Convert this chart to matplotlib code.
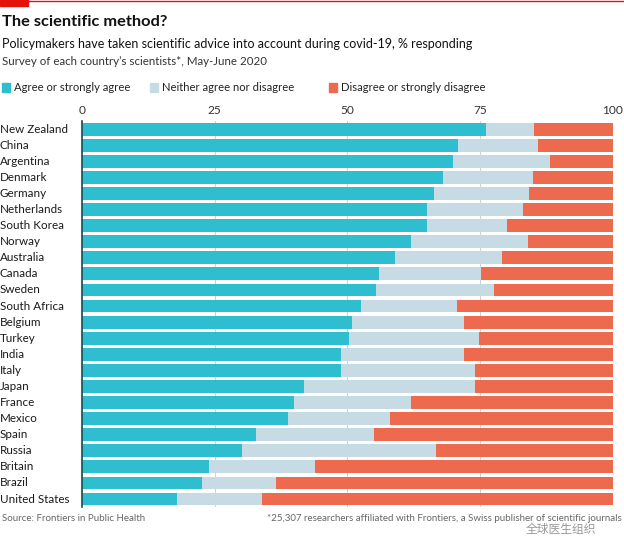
import matplotlib.pyplot as plt
from matplotlib.patches import Rectangle

countries = ['New Zealand', 'China', 'Argentina', 'Denmark', 'Germany', 'Netherlands',
             'South Korea', 'Norway', 'Australia', 'Canada', 'Sweden', 'South Africa',
             'Belgium', 'Turkey', 'India', 'Italy', 'Japan', 'France', 'Mexico', 'Spain',
             'Russia', 'Britain', 'Brazil', 'United States']
agree = [76.2, 70.9, 70.0, 68.0, 66.3, 65.0, 65.0, 62.0, 59.0, 56.0, 55.5, 52.5,
         50.9, 50.4, 48.9, 48.9, 41.9, 40.0, 38.9, 32.9, 30.2, 23.9, 22.7, 17.9]
neither = [8.9, 15.1, 18.1, 17.0, 17.9, 18.1, 15.1, 22.0, 20.1, 19.1, 22.2, 18.2,
           21.1, 24.5, 23.1, 25.1, 32.1, 22.0, 19.2, 22.1, 36.5, 20.1, 13.9, 16.0]
disagree = [100 - a - n for a, n in zip(agree, neither)]
ticks = [0, 25, 50, 75, 100]

c_agree = '#2fbdd0'
c_neither = '#c7dbe4'
c_dis = '#ee6a4f'

plt.rcParams['font.family'] = ['Lato', 'Noto Sans CJK SC', 'DejaVu Sans']

fig = plt.figure(figsize=(6.24, 5.36), dpi=100)
ax = fig.add_axes([0.131, 0.054, 0.851, 0.72])

y = list(range(len(countries)))
left2 = [a + n for a, n in zip(agree, neither)]
ax.barh(y, agree, height=0.8, color=c_agree, zorder=2)
ax.barh(y, neither, left=agree, height=0.8, color=c_neither, zorder=2)
ax.barh(y, disagree, left=left2, height=0.8, color=c_dis, zorder=2)

ax.set_xlim(0, 100)
ax.set_ylim(len(countries) - 0.5, -0.5)
ax.set_xticks(ticks)
ax.xaxis.tick_top()
ax.tick_params(axis='x', length=0, pad=4, labelsize=8.6, labelcolor='#333333')
ax.grid(axis='x', color='#d0d0d0', lw=0.7, zorder=0)
ax.set_yticks([])
for s in ['top', 'right', 'bottom']:
    ax.spines[s].set_visible(False)
ax.spines['left'].set_color('#1a4a55')
ax.spines['left'].set_linewidth(1.2)
ax.spines['left'].set_zorder(3)

for i, c in enumerate(countries):
    ax.text(-0.1545, i, c, transform=ax.get_yaxis_transform(), ha='left', va='center',
            fontsize=8.4, color='#1a1a1a')

# header
fig.patches.append(Rectangle((0, 1 - 6 / 536), 28 / 624, 6 / 536, transform=fig.transFigure,
                             color='#e3120b', zorder=5))
fig.add_artist(plt.Line2D([0, 1], [1 - 1 / 536, 1 - 1 / 536], color='#e3120b', lw=1))
fig.text(0.004, 1 - 26 / 536, 'The scientific method?', fontsize=11.8, fontweight='bold',
         color='#111111')
fig.text(0.004, 1 - 48 / 536, 'Policymakers have taken scientific advice into account during covid-19, % responding',
         fontsize=9.0, color='#111111')
fig.text(0.004, 1 - 65 / 536, 'Survey of each country\u2019s scientists*, May-June 2020',
         fontsize=8.3, color='#333333')

# legend
leg = [('Agree or strongly agree', c_agree, 2), ('Neither agree nor disagree', c_neither, 150),
       ('Disagree or strongly disagree', c_dis, 329)]
for lab, col, x in leg:
    fig.patches.append(Rectangle((x / 624, 1 - 92 / 536), 8 / 624, 9 / 536,
                                 transform=fig.transFigure, color=col))
    fig.text((x + 12) / 624, 1 - 87.5 / 536, lab, fontsize=8.1, color='#222222', va='center')

# footer
fig.text(0.004, 1 - 521 / 536, 'Source: Frontiers in Public Health', fontsize=7.0, color='#666666')
fig.text(0.997, 1 - 521 / 536,
         '*25,307 researchers affiliated with Frontiers, a Swiss publisher of scientific journals',
         fontsize=7.0, color='#666666', ha='right')
fig.text(0.955, 1 - 536 / 536, '全球医生组织', fontsize=8.5, color='#555555', alpha=0.6,
         ha='right', va='bottom', family=['Noto Sans CJK SC'])

fig.savefig('out.png', dpi=100)
